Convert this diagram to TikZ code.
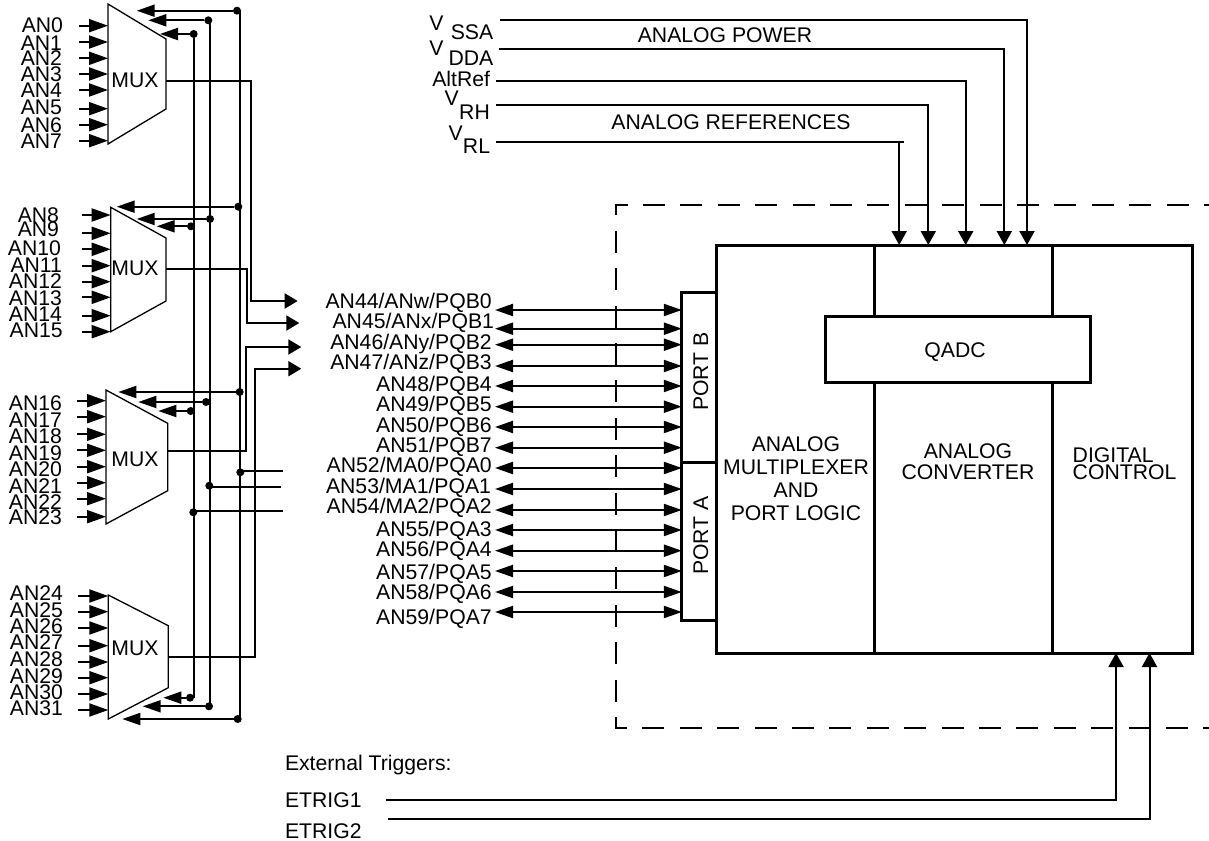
\documentclass[tikz,border=0pt]{standalone}
\usepackage{fontspec}
\setmainfont{Liberation Sans}
\usetikzlibrary{arrows.meta, positioning}
\tikzset{
  lbl/.style={inner sep=0pt, outer sep=0pt, font=\fontsize{21.2}{23}\selectfont},
  sigline/.style={line width=2pt},
  inarrow/.style={line width=2pt, -{Triangle[length=19pt,width=13pt]}},
  busarrow/.style={line width=2pt, -{Triangle[length=18pt,width=12pt]}},
  outarrow/.style={line width=2pt, -{Triangle[length=13pt,width=15pt]}},
  portarrow/.style={line width=2pt, {Triangle[length=18pt,width=12pt]}-{Triangle[length=18pt,width=12pt]}},
  feedarrow/.style={line width=2pt, -{Triangle[length=14pt,width=15pt]}},
  busdot/.style={circle, fill=black, inner sep=0pt, minimum size=8pt},
  blockbox/.style={draw, line width=3pt, inner sep=0pt, outer sep=0pt, fill=white},
}
\begin{document}
\begin{tikzpicture}[x=1pt, y=-1pt, >=Stealth]
    \useasboundingbox (0,0) rectangle (1209,840);

    % --- dashed outline ---
    \coordinate (dashtop) at (1209,205);
    \coordinate (dashtl) at (616,205);
    \coordinate (dashbl) at (616,728);
    \coordinate (dashbot) at (1209,728);
    \draw[line width=2pt, dash pattern=on 22pt off 15.4pt, dash phase=17pt]
          (dashtop) -- (dashtl) -- (dashbl) -- (dashbot);

    % --- blocks ---
    \node[blockbox, minimum width=34.3pt, minimum height=170pt] (portb) at (699,377.3) {};
    \node[blockbox, minimum width=34.3pt, minimum height=157.7pt] (porta) at (699,541.2) {};
    \node[blockbox, minimum width=158pt, minimum height=408pt] (muxbox) at (795,449) {};
    \node[blockbox, minimum width=178.5pt, minimum height=408pt] (convbox) at (963.25,449) {};
    \node[blockbox, minimum width=140pt, minimum height=408pt] (digbox) at (1122.5,449) {};
    \node[blockbox, minimum width=265pt, minimum height=66.3pt] (qadc) at (957.5,349.2) {};

    \node[lbl] (qadctxt) at (955,351.7) {QADC};
    \node[lbl, rotate=90] (portbtxt) at (700.7,371.7) {PORT B};
    \node[lbl, rotate=90] (portatxt) at (700.7,535.7) {PORT A};
    \node[lbl, align=center] (muxtxt) at (796,479) {ANALOG\\MULTIPLEXER\\AND\\PORT LOGIC};
    \node[lbl, align=center, font=\fontsize{21.2}{21}\selectfont] (convtxt) at (968,462) {ANALOG\\CONVERTER};
    \node[lbl, align=left, font=\fontsize{21.2}{17}\selectfont, anchor=west] (digtxt) at (1072.7,463.7) {DIGITAL\\CONTROL};

    % --- analog power and references ---
    \node[lbl] (vssa) at (436.5,23) {V};
    \node[lbl] (vssasub) at (472,32) {SSA};
    \node[lbl] (vdda) at (436.5,48) {V};
    \node[lbl] (vddasub) at (471,58) {DDA};
    \node[lbl, anchor=east] (altref) at (490,79) {AltRef};
    \node[lbl] (vrh) at (451.7,98) {V};
    \node[lbl] (vrhsub) at (474.5,112) {RH};
    \node[lbl] (vrl) at (455.8,133) {V};
    \node[lbl] (vrlsub) at (476.5,146) {RL};
    \node[lbl] (powertxt) at (725,35.7) {ANALOG POWER};
    \node[lbl] (reftxt) at (731,122.7) {ANALOG REFERENCES};

    \coordinate (vssain) at (500.4,20);
    \coordinate (vssabend) at (1027,20);
    \coordinate (vddain) at (498.8,49);
    \coordinate (vddabend) at (1004.3,49);
    \coordinate (altin) at (496.3,80.7);
    \coordinate (altbend) at (965.7,80.7);
    \coordinate (vrhin) at (496.3,105);
    \coordinate (vrhbend) at (928.3,105);
    \coordinate (vrlin) at (496.3,142);
    \coordinate (vrlstub) at (903.7,142);
    \coordinate (vrlbend) at (899.2,142);
    \draw[feedarrow] (vssain) -- (vssabend) -- (vssabend |- convbox.north);
    \draw[feedarrow] (vddain) -- (vddabend) -- (vddabend |- convbox.north);
    \draw[feedarrow] (altin) -- (altbend) -- (altbend |- convbox.north);
    \draw[feedarrow] (vrhin) -- (vrhbend) -- (vrhbend |- convbox.north);
    \draw[sigline] (vrlin) -- (vrlstub);
    \draw[feedarrow] (vrlbend) -- (vrlbend |- convbox.north);

    % --- external triggers ---
    \node[lbl, anchor=west] (exttxt) at (285,765) {External Triggers:};
    \node[lbl, anchor=west] (etrig1) at (285,800) {ETRIG1};
    \node[lbl, anchor=west] (etrig2) at (285,831.5) {ETRIG2};
    \coordinate (trigin1) at (385.7,800);
    \coordinate (trigbend1) at (1116,800);
    \coordinate (trigin2) at (388,819);
    \coordinate (trigbend2) at (1149.5,819);
    \draw[feedarrow] (trigin1) -- (trigbend1) -- (trigbend1 |- digbox.south);
    \draw[feedarrow] (trigin2) -- (trigbend2) -- (trigbend2 |- digbox.south);

    % --- MUX bodies ---
    \foreach \m/\xl/\xr/\ya/\yb/\yc/\yd/\ty in {
        0/108/166/4/39/109/144/80,
        1/110.7/166/207.3/238/301/331.7/268,
        2/106/167.7/390/423.3/490.7/524/459,
        3/108.3/168.3/595/625.7/687.7/719/648.7} {
      \coordinate (mux\m w) at (\xl,\ya);
      \draw[line width=1.3pt] (\xl,\ya) -- (\xr,\yb) -- (\xr,\yc) -- (\xl,\yd) -- cycle;
      \node[lbl] (mux\m) at (135,\ty) {MUX};
    }

    % --- MUX inputs ---
    \foreach \n/\lx/\ly/\ay in {0/63/25/25.7, 1/62/43/42, 2/62/58/58.3, 3/62/74/74,
        4/62/90/90, 5/62/107/108.7, 6/62/125/124.7, 7/62/141/140.7} {
      \node[lbl, anchor=east] (an\n) at (\lx,\ly) {AN\n};
      \coordinate (in\n) at (79,\ay);
      \draw[inarrow] (in\n) -- (in\n -| mux0w);
    }
    \foreach \n/\lx/\ly/\ay in {8/59/215/215, 9/59/229/233.3, 10/61/248/249.3, 11/62/265/265.7,
        12/62/281/281.7, 13/62/297.7/297.3, 14/62/314/315.7, 15/62.7/330.7/331.7} {
      \node[lbl, anchor=east] (an\n) at (\lx,\ly) {AN\n};
      \coordinate (in\n) at (82,\ay);
      \draw[inarrow] (in\n) -- (in\n -| mux1w);
    }
    \foreach \n/\lx/\ly/\ay in {16/62/403/400.7, 17/62/420/416.7, 18/62/435.7/434.3, 19/62/453/450.3,
        20/62/469/466.7, 21/62/485.7/482.7, 22/62/501.7/498.7, 23/62/517/516.7} {
      \node[lbl, anchor=east] (an\n) at (\lx,\ly) {AN\n};
      \coordinate (in\n) at (77,\ay);
      \draw[inarrow] (in\n) -- (in\n -| mux2w);
    }
    \foreach \n/\lx/\ly/\ay in {24/63/593/596, 25/63/610/611.7, 26/63/626/628, 27/63/641.7/645.7,
        28/63/659/662, 29/63/675.7/677.7, 30/63/691.7/694, 31/63/708/710} {
      \node[lbl, anchor=east] (an\n) at (\lx,\ly) {AN\n};
      \coordinate (in\n) at (78,\ay);
      \draw[inarrow] (in\n) -- (in\n -| mux3w);
    }

    % --- address lines ---
    \coordinate (adrAtop) at (239.7,10.7);
    \coordinate (adrAbot) at (239.7,719);
    \coordinate (adrBtop) at (210,20.3);
    \coordinate (adrBbot) at (210,706.3);
    \coordinate (adrCtop) at (193.7,34);
    \coordinate (adrCbot) at (193.7,697.7);
    \draw[sigline] (adrAtop) -- (adrAbot);
    \draw[sigline] (adrBtop) -- (adrBbot);
    \draw[sigline] (adrCtop) -- (adrCbot);
    \foreach \t/\dx/\dy/\tx in {
        a/237/10.7/136.7, b/208.3/20.3/148.3, c/193.7/34/160,
        d/238.3/206.7/116.7, e/210/219/136.7, f/191/226.3/156.7,
        g/239.7/392/118.3, h/206/402/138.3, i/190.7/411/158.3,
        j/190/697.7/163.3, k/209/706.3/142.7, l/237.7/719/122.3} {
      \node[busdot] (dot\t) at (\dx,\dy) {};
      \coordinate (tip\t) at (\tx,\dy);
      \draw[busarrow] (dot\t) -- (tip\t);
    }
    % stubs towards the pins
    \foreach \t/\dx/\dy/\ex/\ey in {m/240.3/472.3/283/470.7, n/209.3/485.7/281/487, o/193.3/512.3/283/511} {
      \node[busdot] (dot\t) at (\dx,\dy) {};
      \coordinate (end\t) at (\ex,\ey);
      \draw[sigline] (dot\t |- end\t) -- (end\t);
    }

    % --- MUX outputs ---
    \foreach \m/\ox/\oy/\bx/\by/\tx in {
        0/166/80.7/250.7/301/297.7,
        1/166/268.7/247/323/299.3,
        2/168/450.7/246/347/301.3,
        3/168/656.7/255.3/368.7/301.3} {
      \coordinate (out\m) at (\ox,\oy);
      \coordinate (bend\m) at (\bx,\by);
      \coordinate (pin\m) at (\tx,\by);
      \draw[outarrow] (out\m) -| (bend\m) -- (pin\m);
    }

    % --- port pins ---
    \foreach \n/\txt/\lx/\ly/\ay in {
        44/AN44\slash ANw\slash PQB0/491.7/301/310, 45/AN45\slash ANx\slash PQB1/494/321.7/328.7,
        46/AN46\slash ANy\slash PQB2/491.7/342.7/344.7, 47/AN47\slash ANz\slash PQB3/491.7/362.3/366,
        48/AN48\slash PQB4/491.7/384/386, 49/AN49\slash PQB5/491.7/404/406.7,
        50/AN50\slash PQB6/491.7/425/427, 51/AN51\slash PQB7/491.7/445/447.7,
        52/AN52\slash MA0\slash PQA0/491.7/465.3/468, 53/AN53\slash MA1\slash PQA1/491/486.7/489,
        54/AN54\slash MA2\slash PQA2/491.7/506.7/510, 55/AN55\slash PQA3/491.7/529.3/530,
        56/AN56\slash PQA4/491.7/549.3/550.7, 57/AN57\slash PQA5/491.7/572.3/571,
        58/AN58\slash PQA6/491.7/592.7/592, 59/AN59\slash PQA7/491.7/617.3/612} {
      \node[lbl, anchor=east, yshift=-1.5pt] (pin\n) at (\lx,\ly) {\txt};
      \coordinate (pinend\n) at (495,\ay);
      \draw[portarrow] (pinend\n) -- (pinend\n -| portb.west);
    }
\end{tikzpicture}
\end{document}
